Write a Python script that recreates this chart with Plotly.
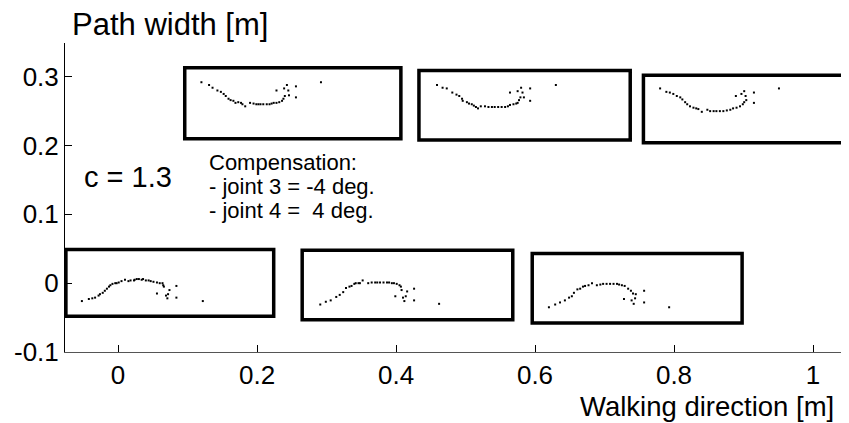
import plotly.graph_objects as go

# ---------------- data (metres) ----------------
# footprint point clouds, one per step box
b1_x = [-0.052, -0.042, -0.037, -0.033, -0.028, -0.026, -0.022, -0.019, -0.016, -0.013, -0.011, -0.008, -0.004, -0.002,
        0.001, 0.005, 0.010, 0.015, 0.018, 0.023, 0.024, 0.027, 0.030, 0.034, 0.036, 0.040, 0.044, 0.047, 0.051, 0.056,
        0.060, 0.064, 0.065, 0.066, 0.056, 0.069, 0.071, 0.072, 0.074, 0.084, 0.084, 0.122]
b1_y = [-0.026, -0.023, -0.022, -0.021, -0.018, -0.016, -0.014, -0.011, -0.008, -0.005, -0.003, -0.001, 0.000, 0.000,
        0.001, 0.003, 0.005, 0.003, 0.004, 0.004, 0.005, 0.006, 0.006, 0.005, 0.006, 0.004, 0.004, 0.003, 0.002, 0.001,
        0.000, 0.000, -0.003, -0.005, -0.015, -0.018, -0.022, -0.016, -0.010, -0.004, -0.021, -0.026]

b2_x = [0.291, 0.299, 0.306, 0.314, 0.319, 0.324, 0.328, 0.333, 0.336, 0.340, 0.342, 0.346, 0.348, 0.352, 0.360, 0.365,
        0.370, 0.373, 0.377, 0.382, 0.387, 0.390, 0.394, 0.397, 0.401, 0.405, 0.407, 0.408, 0.399, 0.410, 0.412, 0.414,
        0.416, 0.426, 0.426, 0.462]
b2_y = [-0.031, -0.027, -0.025, -0.020, -0.017, -0.013, -0.007, -0.005, -0.004, -0.001, 0.000, 0.000, 0.000, 0.004,
        0.000, 0.001, 0.001, 0.001, 0.001, 0.001, 0.001, 0.001, 0.000, 0.000, -0.001, -0.003, -0.005, -0.010, -0.019,
        -0.021, -0.026, -0.019, -0.012, -0.008, -0.025, -0.030]

b3_x = [0.620, 0.629, 0.636, 0.643, 0.649, 0.653, 0.656, 0.661, 0.665, 0.669, 0.672, 0.677, 0.682, 0.689, 0.694, 0.698,
        0.703, 0.708, 0.713, 0.718, 0.721, 0.725, 0.729, 0.734, 0.738, 0.741, 0.745, 0.728, 0.739, 0.744, 0.742, 0.757,
        0.757, 0.793]
b3_y = [-0.035, -0.031, -0.028, -0.025, -0.021, -0.019, -0.014, -0.009, -0.008, -0.005, -0.004, -0.003, 0.000, -0.003,
        -0.002, -0.001, -0.001, -0.001, -0.001, -0.001, -0.002, -0.003, -0.004, -0.008, -0.011, -0.015, -0.016, -0.023,
        -0.025, -0.022, -0.030, -0.011, -0.028, -0.035]

b4_x = [0.120, 0.131, 0.136, 0.143, 0.148, 0.152, 0.155, 0.159, 0.162, 0.166, 0.169, 0.173, 0.177, 0.179, 0.183, 0.190,
        0.195, 0.199, 0.202, 0.205, 0.209, 0.214, 0.218, 0.221, 0.224, 0.228, 0.232, 0.236, 0.238, 0.240, 0.228, 0.239,
        0.243, 0.245, 0.246, 0.256, 0.256, 0.292]
b4_y = [0.292, 0.288, 0.284, 0.280, 0.278, 0.275, 0.272, 0.268, 0.266, 0.265, 0.262, 0.263, 0.262, 0.260, 0.257, 0.262,
        0.261, 0.260, 0.260, 0.260, 0.260, 0.260, 0.260, 0.261, 0.262, 0.262, 0.263, 0.265, 0.268, 0.272, 0.280, 0.283,
        0.288, 0.280, 0.273, 0.286, 0.270, 0.292]

b5_x = [0.459, 0.467, 0.473, 0.481, 0.487, 0.491, 0.495, 0.496, 0.502, 0.505, 0.509, 0.512, 0.515, 0.518, 0.522, 0.528,
        0.533, 0.538, 0.542, 0.547, 0.552, 0.557, 0.561, 0.564, 0.569, 0.573, 0.575, 0.577, 0.579, 0.564, 0.575, 0.580,
        0.582, 0.584, 0.593, 0.593, 0.630]
b5_y = [0.288, 0.284, 0.283, 0.277, 0.274, 0.272, 0.268, 0.265, 0.263, 0.261, 0.260, 0.258, 0.256, 0.254, 0.257, 0.257,
        0.256, 0.256, 0.256, 0.256, 0.256, 0.256, 0.257, 0.259, 0.260, 0.261, 0.262, 0.266, 0.270, 0.277, 0.279, 0.284,
        0.277, 0.270, 0.283, 0.265, 0.288]

b6_x = [0.780, 0.789, 0.794, 0.799, 0.804, 0.809, 0.812, 0.816, 0.819, 0.823, 0.828, 0.832, 0.835, 0.840, 0.848, 0.852,
        0.857, 0.861, 0.866, 0.871, 0.876, 0.881, 0.885, 0.890, 0.895, 0.899, 0.901, 0.904, 0.889, 0.897, 0.901, 0.903,
        0.915, 0.915, 0.951]
b6_y = [0.283, 0.278, 0.277, 0.275, 0.272, 0.270, 0.267, 0.263, 0.260, 0.257, 0.255, 0.254, 0.253, 0.249, 0.252, 0.250,
        0.250, 0.250, 0.250, 0.250, 0.251, 0.252, 0.254, 0.255, 0.257, 0.260, 0.263, 0.266, 0.272, 0.275, 0.279, 0.272,
        0.277, 0.262, 0.283]

# step boxes (foot outlines)
box_x0 = [-0.075, 0.265, 0.596, 0.096, 0.433, 0.756]
box_x1 = [0.224, 0.568, 0.898, 0.407, 0.737, 1.080]
box_y0 = [-0.048, -0.053, -0.058, 0.210, 0.208, 0.204]
box_y1 = [0.049, 0.048, 0.043, 0.313, 0.309, 0.302]

x_ticks = [0, 0.2, 0.4, 0.6, 0.8, 1]
x_tick_labels = ["0", "0.2", "0.4", "0.6", "0.8", "1"]
y_ticks = [-0.1, 0, 0.1, 0.2, 0.3]
y_tick_labels = ["-0.1", "0", "0.1", "0.2", "0.3"]

FONT = "Arial, Liberation Sans, sans-serif"

fig = go.Figure()
for xs, ys in [(b1_x, b1_y), (b2_x, b2_y), (b3_x, b3_y), (b4_x, b4_y), (b5_x, b5_y), (b6_x, b6_y)]:
    fig.add_trace(go.Scatter(x=xs, y=ys, mode="markers",
                             marker=dict(symbol="square", size=2, color="black", line=dict(width=0)),
                             showlegend=False, hoverinfo="skip"))

for x0, x1, y0, y1 in zip(box_x0, box_x1, box_y0, box_y1):
    fig.add_shape(type="rect", xref="x", yref="y", x0=x0, x1=x1, y0=y0, y1=y1,
                  line=dict(color="black", width=3.5), fillcolor="rgba(0,0,0,0)", layer="above")

ann_font = dict(family=FONT, size=22, color="black")
fig.add_annotation(x=-0.052, y=0.155, xref="x", yref="y", text="c = 1.3", showarrow=False,
                   xanchor="left", yanchor="middle", font=dict(family=FONT, size=29, color="black"))
fig.add_annotation(x=0.128, y=0.176, xref="x", yref="y", text="Compensation:", showarrow=False,
                   xanchor="left", yanchor="middle", font=ann_font)
fig.add_annotation(x=0.128, y=0.141, xref="x", yref="y", text="- joint 3 = -4 deg.", showarrow=False,
                   xanchor="left", yanchor="middle", font=ann_font)
fig.add_annotation(x=0.128, y=0.106, xref="x", yref="y", text="- joint 4 = \u00a04 deg.", showarrow=False,
                   xanchor="left", yanchor="middle", font=ann_font)

# axis titles
fig.add_annotation(x=0.006, y=1.06, xref="paper", yref="paper", text="Path width [m]", showarrow=False,
                   xanchor="left", yanchor="middle", font=dict(family=FONT, size=31, color="black"))
fig.add_annotation(x=0.983, y=-0.175, xref="paper", yref="paper", text="Walking direction [m]", showarrow=False,
                   xanchor="right", yanchor="middle", font=dict(family=FONT, size=27.5, color="black"))

# page has an 8px body margin: size the figure so it fills the 849x423 window exactly
fig.update_layout(
    width=841, height=415,
    margin=dict(l=57, r=0, t=35, b=71, pad=0),
    paper_bgcolor="white", plot_bgcolor="white",
    font=dict(family=FONT, color="black"),
    xaxis=dict(range=[-0.0763, 1.0518], tickvals=x_ticks, ticktext=x_tick_labels,
               ticks="inside", ticklen=7, tickcolor="black", tickwidth=1,
               showline=True, linecolor="#555555", linewidth=1, showgrid=False, zeroline=False,
               tickfont=dict(family=FONT, size=26, color="black")),
    yaxis=dict(range=[-0.1, 0.349], tickvals=y_ticks, ticktext=y_tick_labels,
               ticks="inside", ticklen=7, tickcolor="black", tickwidth=1,
               showline=True, linecolor="black", linewidth=1, showgrid=False, zeroline=False,
               tickfont=dict(family=FONT, size=26, color="black")),
)

fig.write_html("out.html")
